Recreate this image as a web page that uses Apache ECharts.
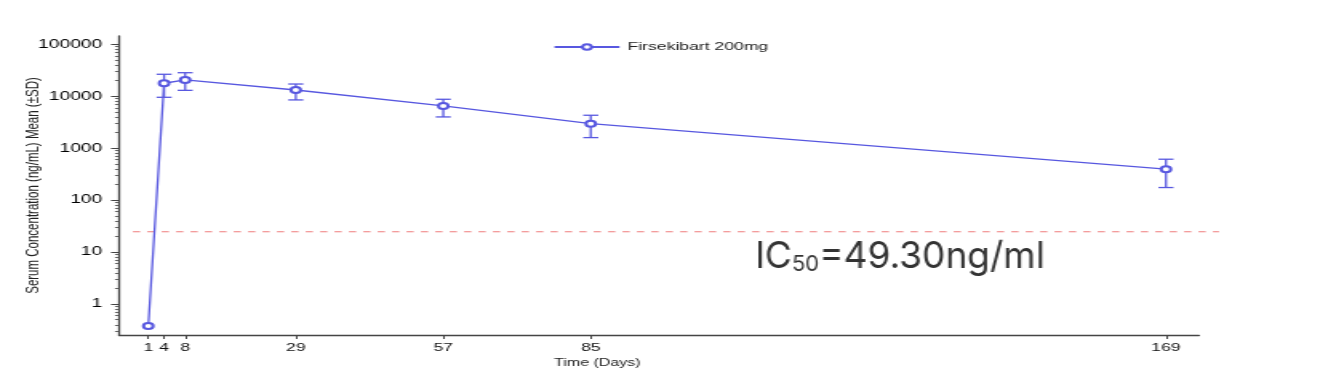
<!DOCTYPE html>
<html>
<head>
<meta charset="utf-8">
<script src="https://cdn.jsdelivr.net/npm/echarts@6/dist/echarts.min.js"></script>
<style>
html,body{margin:0;padding:0;background:#fff;overflow:hidden;width:1318px;height:392px;}
#chart{position:absolute;left:0;top:0;width:824px;height:392px;transform:scaleX(1.6);transform-origin:0 0;}
</style>
</head>
<body>
<div id="chart"></div>
<script>
// ---- data ----
const seriesName = 'Firsekibart 200mg';
const days = [1, 4, 8, 29, 57, 85, 169];
const meanConc = [0.38, 17800, 20600, 13200, 6500, 2970, 395];
const sdLower = [null, 9550, 13000, 8500, 4000, 1600, 175];
const sdUpper = [null, 26500, 28400, 17200, 8750, 4310, 614];
const xTickValues = [1, 4, 8, 29, 57, 85, 169];
const yTickValues = [1, 10, 100, 1000, 10000, 100000];
const refLineValue = 24.65;
const xTitle = 'Time (Days)';
const yTitle = 'Serum Concentration (ng/mL) Mean (\u00B1SD)';

// minor log ticks (2..9 per decade)
const yMinorTicks = [];
for (let e = -1; e <= 5; e++) {
  for (let m = 2; m <= 9; m++) {
    const v = +(m * Math.pow(10, e)).toPrecision(6);
    if (v > 0.254 && v < 144500) yMinorTicks.push(v);
  }
}

const COLOR = '#5858e0';
const AXIS = '#444';
const yMin = 0.254, yMax = 144500;

const lineData = days.map((d, i) => [d, meanConc[i]]);
const errData = [];
days.forEach((d, i) => { if (sdLower[i] != null) errData.push([d, sdLower[i], sdUpper[i]]); });

const chart = echarts.init(document.getElementById('chart'), null, {renderer: 'canvas'});
chart.setOption({
  animation: false,
  backgroundColor: '#fff',
  textStyle: {fontFamily: 'Liberation Sans, Arial, sans-serif'},
  legend: {
    data: [seriesName],
    left: 345.6,
    top: 41.5,
    padding: 0,
    itemWidth: 40.6,
    itemHeight: 7,
    textStyle: {fontSize: 11, color: '#222', fontFamily: 'Liberation Sans, Arial, sans-serif'}
  },
  grid: [
    {left: 74.4, right: 74.6, top: 36, bottom: 57},
    {left: 83.1, right: 62.1, top: 36, bottom: 57},
    {left: 74.4, right: 74.6, top: 36, bottom: 57}
  ],
  xAxis: [{
    type: 'value',
    min: -4.56,
    max: 175.27,
    breaks: [{start: 85, end: 169, gap: 109.2}],
    breakArea: {show: false},
    axisLine: {show: false},
    axisTick: {show: true, length: 4, lineStyle: {color: AXIS, width: 1}, customValues: xTickValues},
    axisLabel: {customValues: xTickValues, fontSize: 11, color: '#111', margin: 7,
      formatter: v => String(v)},
    splitLine: {show: false},
    name: xTitle,
    nameLocation: 'middle',
    nameGap: 23,
    nameMoveOverlap: false,
    nameTextStyle: {fontSize: 10, color: '#222', padding: [0, 77, 0, 0]}
  }, {
    gridIndex: 1, type: 'value', min: 0, max: 1, show: false
  }, {
    gridIndex: 2, type: 'value', min: 0, max: 1,
    axisLine: {show: true, onZero: false, lineStyle: {color: AXIS, width: 1.3}},
    axisTick: {show: false}, axisLabel: {show: false}, splitLine: {show: false}
  }],
  yAxis: [{
    type: 'log',
    logBase: 10,
    min: yMin,
    max: yMax,
    axisLine: {show: true, onZero: false, lineStyle: {color: AXIS, width: 1.3}},
    axisTick: {show: true, length: 5, lineStyle: {color: AXIS, width: 1}, customValues: yTickValues},
    axisLabel: {customValues: yTickValues, fontSize: 12, color: '#000', margin: 10.5,
      formatter: v => String(Math.round(v))},
    splitLine: {show: false},
    name: yTitle,
    nameLocation: 'middle',
    nameGap: 47.2,
    nameMoveOverlap: false,
    nameTextStyle: {fontSize: 11.5, color: '#222', fontFamily: 'Liberation Sans, Arial, sans-serif'}
  }, {
    type: 'log',
    logBase: 10,
    min: yMin,
    max: yMax,
    position: 'left',
    axisLine: {show: false, onZero: false},
    axisTick: {show: true, length: 2.5, lineStyle: {color: '#555', width: 0.9}, customValues: yMinorTicks},
    axisLabel: {show: false},
    splitLine: {show: false}
  }, {
    gridIndex: 1, type: 'log', logBase: 10, min: yMin, max: yMax, show: false
  }, {
    gridIndex: 2, type: 'value', min: 0, max: 1, show: false
  }],
  series: [{
    name: 'IC50 ref',
    type: 'line',
    xAxisIndex: 1,
    yAxisIndex: 2,
    data: [[0, refLineValue], [1, refLineValue]],
    symbol: 'none',
    silent: true,
    lineStyle: {color: '#f07c7c', width: 1.1, type: [4.5, 4.5]},
    z: 1
  }, {
    name: seriesName,
    type: 'line',
    data: lineData,
    symbol: 'emptyCircle',
    symbolSize: 6,
    color: COLOR,
    itemStyle: {color: COLOR, borderColor: COLOR, borderWidth: 0.9},
    lineStyle: {color: COLOR, width: 1.3},
    z: 3
  }, {
    name: 'SD',
    type: 'custom',
    data: errData,
    z: 2,
    silent: true,
    renderItem: function (params, api) {
      const x = api.value(0);
      const pLo = api.coord([x, api.value(1)]);
      const pHi = api.coord([x, api.value(2)]);
      const hw = 4.7;
      const st = {stroke: COLOR, lineWidth: 1.3};
      return {
        type: 'group',
        children: [
          {type: 'line', shape: {x1: pLo[0], y1: pLo[1], x2: pHi[0], y2: pHi[1]}, style: st},
          {type: 'line', shape: {x1: pHi[0] - hw, y1: pHi[1], x2: pHi[0] + hw, y2: pHi[1]}, style: st},
          {type: 'line', shape: {x1: pLo[0] - hw, y1: pLo[1], x2: pLo[0] + hw, y2: pLo[1]}, style: st}
        ]
      };
    }
  }],
  graphic: [{
    type: 'text',
    x: 471.9,
    y: 238.5,
    scaleX: 0.625,
    silent: true,
    style: {
      text: '{m|IC}{s|50}{m|=49.30ng/ml}',
      x: 0, y: 0,
      align: 'left',
      verticalAlign: 'top',
      rich: {
        m: {fontSize: 37, lineHeight: 37, fontFamily: 'Inter, Liberation Sans, sans-serif', fill: '#333', color: '#333'},
        s: {fontSize: 22, lineHeight: 20, verticalAlign: 'bottom', fontFamily: 'Inter, Liberation Sans, sans-serif', fill: '#333', color: '#333'}
      }
    }
  }]
});
</script>
</body>
</html>
